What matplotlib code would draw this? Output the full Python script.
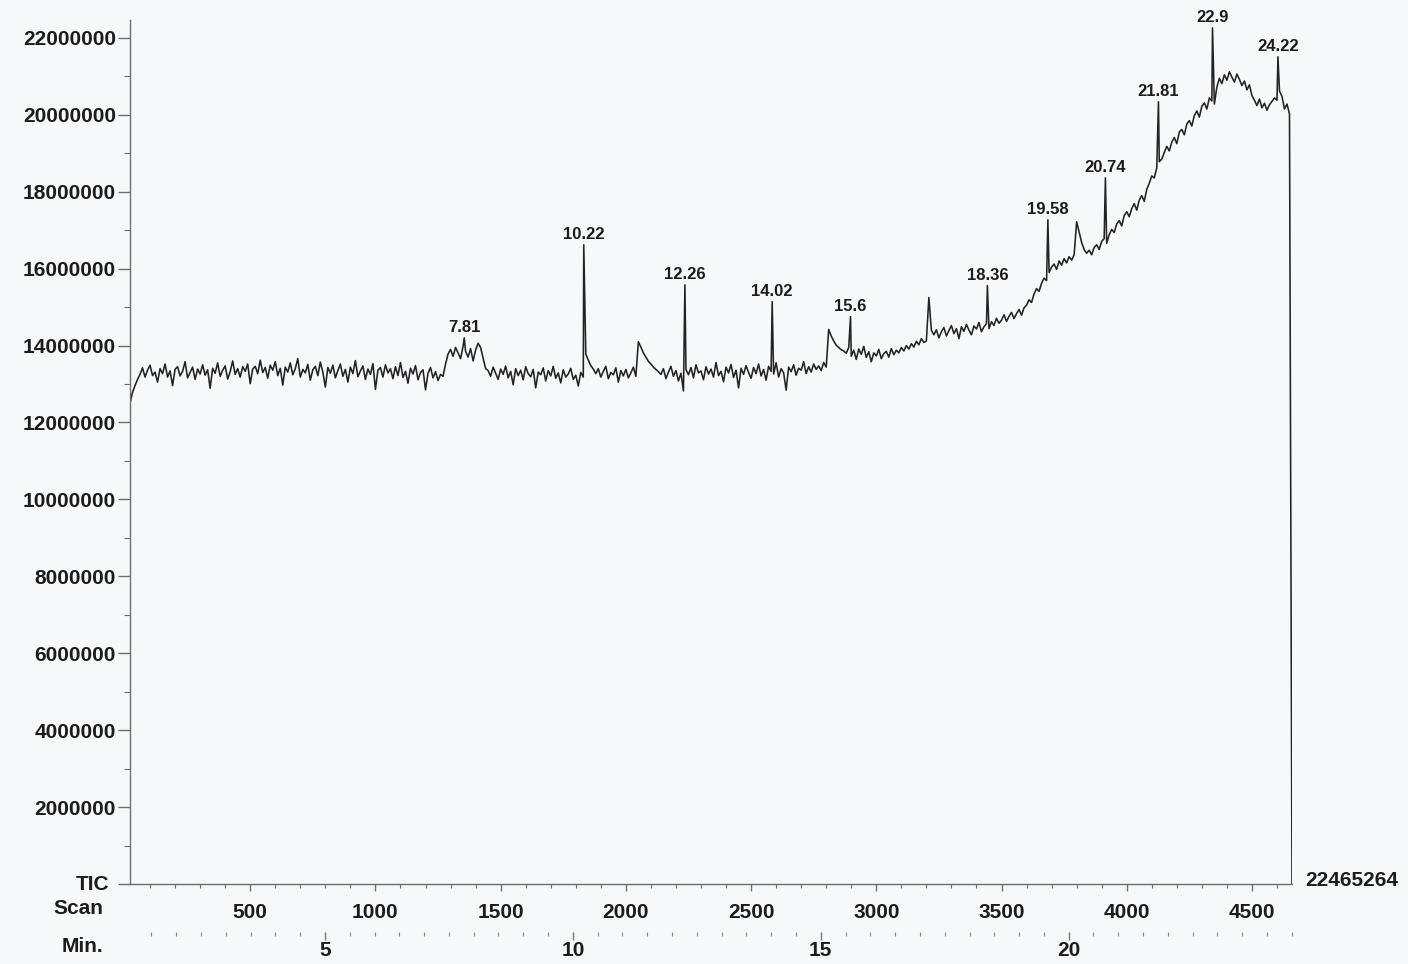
import matplotlib
matplotlib.use("Agg")
import matplotlib.pyplot as plt
import numpy as np
from matplotlib.ticker import FuncFormatter, MultipleLocator

# Total ion current in units of 1e4 counts, one value every 10 scans from scan 20
tic_e4 = [
    1250, 1278, 1296, 1312,
    1325, 1342, 1318, 1336, 1349, 1322, 1331, 1305, 1340, 1327, 1352, 1318, 1334, 1296, 1338, 1345, 1321, 1333, 1358, 1316,
    1330, 1344, 1312, 1339, 1326, 1350, 1323, 1337, 1289, 1341, 1328, 1355, 1320, 1336, 1347, 1313, 1332, 1360, 1325, 1340,
    1318, 1345, 1333, 1352, 1301, 1339, 1346, 1327, 1362, 1330, 1343, 1315, 1349, 1336, 1358, 1322, 1341, 1297, 1344, 1331,
    1355, 1324, 1340, 1366, 1318, 1338, 1329, 1351, 1310, 1337, 1346, 1322, 1357, 1331, 1292, 1343, 1328, 1349, 1316, 1335,
    1352, 1320, 1338, 1305, 1344, 1327, 1361, 1319, 1334, 1347, 1312, 1339, 1325, 1353, 1286, 1336, 1343, 1318, 1350, 1329,
    1340, 1314, 1345, 1322, 1356, 1317, 1333, 1302, 1341, 1326, 1348, 1311, 1330, 1337, 1285, 1328, 1343, 1316, 1332, 1309, 1325, 1320,
    1352, 1378, 1390, 1372, 1395, 1381, 1366, 1398, 1385, 1370, 1392, 1360, 1388, 1406, 1395, 1368, 1340,
    1335, 1320, 1344, 1328, 1312, 1339, 1325, 1347, 1316, 1333, 1298, 1340, 1322, 1336, 1311, 1345, 1327, 1319, 1338, 1290,
    1331, 1324, 1342, 1308, 1335, 1321, 1346, 1315, 1329, 1303, 1337, 1318, 1326, 1341, 1312, 1323, 1295, 1330, 1318,
    1378, 1362, 1348, 1339,
    1327, 1340, 1318, 1333, 1346, 1314, 1330, 1324, 1342, 1305, 1335, 1321, 1338, 1316, 1329, 1344, 1320,
    1410, 1396, 1381, 1370, 1359, 1352, 1344, 1338, 1332,
    1325, 1340, 1314, 1331, 1346, 1320, 1335, 1308, 1328, 1282, 1338, 1324, 1343, 1316, 1350, 1329, 1334, 1311, 1345, 1326,
    1339, 1318, 1356, 1322, 1333, 1306, 1344, 1329, 1351, 1317, 1336, 1290, 1341, 1325, 1348, 1330, 1315, 1343, 1327, 1352,
    1321, 1338, 1310, 1346, 1333, 1326, 1355, 1318, 1340, 1329, 1284, 1344, 1332, 1350, 1323, 1341, 1336, 1358, 1327, 1345,
    1331, 1352, 1338, 1347, 1335, 1356, 1344,
    1442, 1425, 1412, 1401, 1395, 1389, 1386,
    1380, 1395, 1372, 1388, 1364, 1391, 1377, 1398, 1369, 1384, 1358, 1381, 1373, 1390, 1366, 1379, 1385, 1370, 1392, 1376,
    1388, 1381, 1395,
    1386, 1400, 1391, 1405, 1396, 1411, 1402, 1418, 1408,
    1412, 1525, 1440,
    1428, 1441, 1420, 1436, 1447, 1425, 1439, 1452, 1431, 1444, 1418, 1449, 1437, 1455, 1440, 1428, 1451, 1443, 1460, 1436,
    1449, 1457, 1444, 1462,
    1452, 1471, 1458, 1466, 1480, 1463, 1476, 1486, 1470, 1483, 1494, 1479,
    1498, 1505, 1519, 1512, 1534, 1548, 1541, 1562, 1575, 1569, 1590, 1604,
    1612, 1598, 1620, 1609, 1626, 1615, 1631, 1622, 1636,
    1722, 1695, 1668, 1650, 1640,
    1648, 1636, 1655, 1662, 1650, 1671, 1678, 1666, 1688,
    1702, 1694, 1716, 1725, 1711, 1738, 1748, 1735, 1756, 1769, 1752, 1778, 1790, 1775, 1806, 1822, 1841, 1836, 1862, 1878,
    1885, 1902, 1918, 1906, 1929, 1941, 1925, 1955, 1962, 1948, 1976, 1985, 1971, 1998, 2010, 1994, 2022, 2031, 2015, 2044,
    2036, 2028,
    2072, 2095, 2081, 2104, 2090, 2112, 2098, 2085, 2106, 2092, 2076, 2088, 2065, 2078, 2050, 2038, 2024, 2041, 2018, 2030,
    2012, 2026, 2035, 2044, 2038, 2062, 2048, 2015, 2028, 2002, 0,
]

# labelled peaks: retention time (min) and apex TIC
peak_min = [7.81, 10.22, 12.26, 14.02, 15.6, 18.36, 19.58, 20.74, 21.81, 22.9, 24.22]
peak_tic = [14200000, 16620000, 15580000, 15140000, 14750000, 15560000,
            17270000, 18360000, 20340000, 22260000, 21510000]

min_ticks = [5, 10, 15, 20]

scan_start = 20
scan_step = 10
scans_per_min = 198.0
min_at_scan0 = 0.968
tic_max = 22465264

ink = "#1c1c1c"
paper = "#f7f8fa"
font = "Liberation Sans"


def scan_to_min(s):
    return np.asarray(s) / scans_per_min + min_at_scan0


def min_to_scan(m):
    return (np.asarray(m) - min_at_scan0) * scans_per_min


def blank_zero(v, pos):
    return "" if v == 0 else f"{v:.0f}"


scan = scan_start + scan_step * np.arange(len(tic_e4))
tic = np.array(tic_e4, dtype=float) * 1e4
peak_scan = min_to_scan(peak_min)

all_scan = np.concatenate([scan, peak_scan])
all_tic = np.concatenate([tic, peak_tic])
order = np.argsort(all_scan, kind="stable")

plt.rcParams["font.family"] = [font, "DejaVu Sans"]
plt.rcParams["font.weight"] = "bold"

fig = plt.figure(figsize=(14.08, 9.64), dpi=100, facecolor=paper)
ax = fig.add_axes([130 / 1408, 80 / 964, 1162 / 1408, 864 / 964], facecolor=paper)

ax.plot(all_scan[order], all_tic[order], color="#232323", lw=1.15)

for m, s, v in zip(peak_min, peak_scan, peak_tic):
    ax.annotate(f"{m:g}", (s, v), xytext=(0, 2), textcoords="offset points",
                ha="center", va="bottom", fontsize=12, fontweight="bold", color=ink)

ax.set_xlim(scan_start, scan[-1])
ax.set_ylim(0, tic_max)

for side in ("top", "right"):
    ax.spines[side].set_visible(False)
for side in ("left", "bottom"):
    ax.spines[side].set_color("#6e6e6e")
    ax.spines[side].set_linewidth(1.0)

# the zero level is marked by the TIC caption instead of a number
ax.yaxis.set_major_locator(MultipleLocator(2000000))
ax.yaxis.set_minor_locator(MultipleLocator(1000000))
ax.yaxis.set_major_formatter(FuncFormatter(blank_zero))
ax.xaxis.set_major_locator(MultipleLocator(500))
ax.xaxis.set_minor_locator(MultipleLocator(100))
ax.xaxis.set_major_formatter(FuncFormatter(blank_zero))

ax.tick_params(axis="y", which="major", length=9, width=1, color="#6e6e6e",
               pad=1, labelsize=15, labelcolor=ink)
ax.tick_params(axis="y", which="minor", length=4.5, width=0.8, color="#6e6e6e")
ax.tick_params(axis="x", which="major", length=5, width=1, color="#6e6e6e",
               pad=9, labelsize=15, labelcolor=ink)
ax.tick_params(axis="x", which="minor", length=3, width=0.8, color="#6e6e6e")

# retention time scale under the scan axis
sec = ax.secondary_xaxis(-0.055, functions=(scan_to_min, min_to_scan))
sec.spines["bottom"].set_visible(False)
sec.set_xticks(min_ticks, labels=[str(m) for m in min_ticks])
sec.xaxis.set_minor_locator(MultipleLocator(0.5))
sec.tick_params(axis="x", which="major", length=6, width=1, color="#777777",
                pad=1, labelsize=15, labelcolor=ink)
sec.tick_params(axis="x", which="minor", length=3, width=0.8, color="#888888")

fig.text(109 / 1408, 1 - 884 / 964, "TIC", ha="right", va="center", fontsize=15, color=ink)
fig.text(103 / 1408, 1 - 909 / 964, "Scan", ha="right", va="center", fontsize=15, color=ink)
fig.text(103 / 1408, 1 - 947 / 964, "Min.", ha="right", va="center", fontsize=15, color=ink)
fig.text(1305 / 1408, 1 - 880 / 964, str(tic_max), ha="left", va="center", fontsize=15, color=ink)

fig.savefig("out.png", dpi=100, facecolor=paper)
plt.close(fig)
